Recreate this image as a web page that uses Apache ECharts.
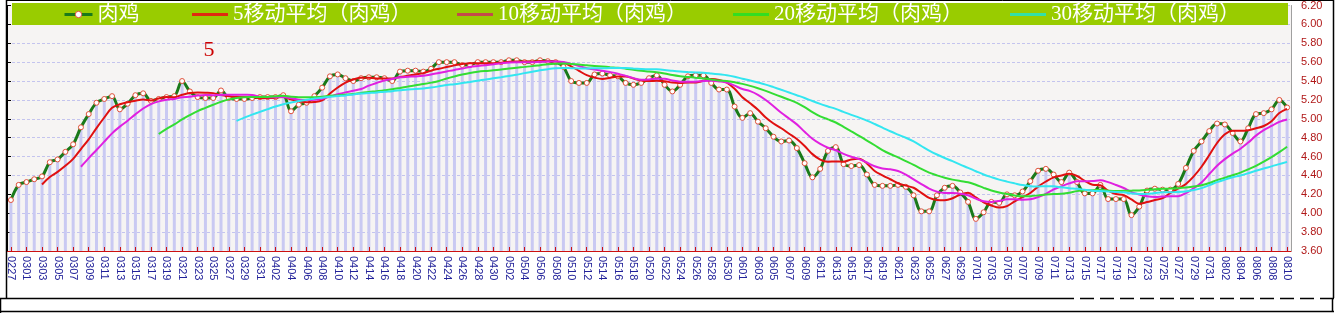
<!DOCTYPE html>
<html>
<head>
<meta charset="utf-8">
<script src="https://cdn.jsdelivr.net/npm/echarts@6/dist/echarts.min.js"></script>
<style>
html,body{margin:0;padding:0;background:#fff;}
#c{width:1340px;height:313px;}
</style>
</head>
<body>
<div id="c"></div>
<script>
const categories = [
'0227','0228',
'0301','0302','0303','0304','0305','0306','0307','0308','0309','0310','0311','0312','0313','0314','0315','0316','0317','0318','0319','0320','0321','0322','0323','0324','0325','0326','0327','0328','0329','0330','0331',
'0401','0402','0403','0404','0405','0406','0407','0408','0409','0410','0411','0412','0413','0414','0415','0416','0417','0418','0419','0420','0421','0422','0423','0424','0425','0426','0427','0428','0429','0430',
'0501','0502','0503','0504','0505','0506','0507','0508','0509','0510','0511','0512','0513','0514','0515','0516','0517','0518','0519','0520','0521','0522','0523','0524','0525','0526','0527','0528','0529','0530','0531',
'0601','0602','0603','0604','0605','0606','0607','0608','0609','0610','0611','0612','0613','0614','0615','0616','0617','0618','0619','0620','0621','0622','0623','0624','0625','0626','0627','0628','0629','0630',
'0701','0702','0703','0704','0705','0706','0707','0708','0709','0710','0711','0712','0713','0714','0715','0716','0717','0718','0719','0720','0721','0722','0723','0724','0725','0726','0727','0728','0729','0730','0731',
'0801','0802','0803','0804','0805','0806','0807','0808','0809','0810'
];

const seriesNames = ['肉鸡','5移动平均（肉鸡）','10移动平均（肉鸡）','20移动平均（肉鸡）','30移动平均（肉鸡）'];

const chicken = [
4.14,4.30,4.33,4.36,4.39,4.54,4.57,4.65,4.73,4.91,
5.05,5.17,5.21,5.24,5.10,5.16,5.25,5.27,5.19,5.21,
5.23,5.24,5.40,5.29,5.23,5.22,5.22,5.30,5.22,5.21,
5.21,5.22,5.23,5.23,5.23,5.25,5.08,5.15,5.17,5.24,
5.33,5.45,5.47,5.43,5.40,5.43,5.44,5.44,5.43,5.40,
5.50,5.51,5.51,5.50,5.53,5.60,5.60,5.60,5.57,5.57,
5.60,5.60,5.60,5.60,5.62,5.62,5.60,5.60,5.62,5.61,
5.60,5.55,5.40,5.38,5.38,5.47,5.48,5.46,5.45,5.38,
5.36,5.38,5.43,5.46,5.36,5.29,5.36,5.45,5.46,5.46,
5.38,5.31,5.31,5.13,5.01,5.06,4.97,4.90,4.81,4.76,
4.77,4.69,4.53,4.38,4.47,4.66,4.70,4.52,4.50,4.51,
4.41,4.30,4.29,4.29,4.30,4.28,4.19,4.02,4.02,4.19,
4.27,4.29,4.22,4.12,3.94,4.01,4.12,4.11,4.20,4.19,
4.23,4.34,4.45,4.47,4.41,4.33,4.43,4.33,4.21,4.21,
4.30,4.15,4.15,4.15,3.98,4.07,4.24,4.26,4.25,4.25,
4.31,4.48,4.66,4.76,4.87,4.95,4.94,4.85,4.76,4.90,
5.05,5.06,5.10,5.20,5.12
];

const ma5 = [
null,null,null,null,
4.304,4.384,4.438,4.502,4.576,4.68,4.782,4.902,5.014,5.116,
5.154,5.176,5.192,5.204,5.194,5.216,5.23,5.228,5.254,5.274,
5.278,5.276,5.272,5.252,5.238,5.234,5.232,5.232,5.218,5.22,
5.224,5.232,5.204,5.188,5.176,5.178,5.194,5.268,5.332,5.384,
5.416,5.436,5.434,5.428,5.428,5.428,5.442,5.456,5.47,5.484,
5.51,5.53,5.548,5.566,5.58,5.588,5.588,5.588,5.588,5.594,
5.604,5.608,5.608,5.608,5.612,5.61,5.606,5.596,5.556,5.508,
5.462,5.436,5.422,5.434,5.448,5.448,5.426,5.406,5.40,5.402,
5.398,5.384,5.38,5.384,5.384,5.404,5.422,5.412,5.384,5.318,
5.228,5.164,5.096,5.014,4.95,4.90,4.842,4.786,4.712,4.626,
4.568,4.546,4.548,4.546,4.57,4.578,4.528,4.448,4.402,4.36,
4.318,4.292,4.27,4.216,4.162,4.14,4.138,4.158,4.198,4.218,
4.168,4.116,4.082,4.06,4.076,4.126,4.17,4.214,4.282,4.336,
4.38,4.40,4.418,4.394,4.342,4.302,4.296,4.24,4.204,4.192,
4.146,4.10,4.118,4.14,4.16,4.214,4.262,4.31,4.39,4.492,
4.616,4.744,4.836,4.874,4.874,4.88,4.90,4.924,4.974,5.062,
5.106
];

const ma10 = [
null,null,null,null,null,null,null,null,null,
4.492,4.583,4.67,4.758,4.846,4.917,4.979,5.047,5.109,5.155,
5.185,5.203,5.21,5.229,5.234,5.247,5.253,5.25,5.253,5.256,
5.256,5.254,5.252,5.235,5.229,5.229,5.232,5.218,5.203,5.198,
5.201,5.213,5.236,5.26,5.28,5.297,5.315,5.351,5.38,5.406,
5.422,5.439,5.445,5.449,5.456,5.469,5.486,5.502,5.518,5.532,
5.549,5.559,5.568,5.577,5.587,5.596,5.598,5.598,5.598,5.603,
5.607,5.607,5.602,5.582,5.56,5.536,5.521,5.509,5.495,5.478,
5.455,5.431,5.414,5.417,5.425,5.423,5.405,5.393,5.392,5.393,
5.401,5.403,5.396,5.384,5.351,5.316,5.293,5.254,5.199,5.134,
5.064,5.003,4.941,4.863,4.788,4.734,4.694,4.667,4.629,4.598,
4.573,4.537,4.498,4.474,4.465,4.448,4.41,4.359,4.309,4.261,
4.229,4.215,4.214,4.207,4.19,4.154,4.127,4.12,4.129,4.147,
4.147,4.143,4.148,4.171,4.206,4.253,4.285,4.316,4.338,4.339,
4.341,4.348,4.329,4.299,4.267,4.224,4.198,4.179,4.172,4.176,
4.18,4.181,4.214,4.265,4.326,4.415,4.503,4.573,4.632,4.683,
4.748,4.822,4.88,4.924,4.968,4.993
];

const ma20 = [
null,null,null,null,null,null,null,null,null,null,
null,null,null,null,null,null,null,null,null,
4.839,4.893,4.94,4.994,5.04,5.082,5.116,5.149,5.181,5.206,
5.221,5.229,5.231,5.232,5.232,5.238,5.243,5.234,5.228,5.227,
5.229,5.234,5.244,5.248,5.255,5.263,5.274,5.285,5.292,5.302,
5.312,5.326,5.341,5.355,5.368,5.383,5.401,5.427,5.449,5.469,
5.486,5.499,5.507,5.513,5.522,5.533,5.542,5.55,5.558,5.568,
5.578,5.583,5.585,5.58,5.574,5.566,5.56,5.554,5.547,5.541,
5.531,5.519,5.508,5.50,5.493,5.48,5.463,5.451,5.444,5.436,
5.428,5.417,5.405,5.401,5.388,5.37,5.349,5.324,5.296,5.264,
5.233,5.203,5.169,5.124,5.07,5.025,4.994,4.961,4.914,4.866,
4.819,4.77,4.72,4.669,4.627,4.591,4.552,4.513,4.469,4.43,
4.401,4.376,4.356,4.341,4.328,4.301,4.269,4.24,4.219,4.204,
4.188,4.179,4.181,4.189,4.198,4.204,4.206,4.218,4.234,4.243,
4.244,4.246,4.239,4.235,4.237,4.239,4.242,4.248,4.255,4.258,
4.261,4.265,4.272,4.282,4.297,4.32,4.351,4.376,4.402,4.43,
4.464,4.502,4.547,4.595,4.647,4.704
];

const ma30 = [
null,null,null,null,null,null,null,null,null,null,
null,null,null,null,null,null,null,null,null,null,
null,null,null,null,null,null,null,null,null,
4.978,5.013,5.044,5.074,5.103,5.131,5.155,5.172,5.188,5.203,
5.214,5.223,5.233,5.241,5.248,5.258,5.267,5.273,5.279,5.287,
5.293,5.302,5.311,5.315,5.322,5.332,5.344,5.357,5.367,5.379,
5.391,5.404,5.416,5.429,5.441,5.454,5.466,5.484,5.499,5.514,
5.526,5.535,5.538,5.536,5.534,5.534,5.535,5.536,5.537,5.538,
5.537,5.532,5.528,5.525,5.524,5.518,5.508,5.50,5.495,5.491,
5.488,5.48,5.471,5.461,5.445,5.425,5.406,5.385,5.362,5.335,
5.307,5.279,5.25,5.221,5.188,5.158,5.131,5.105,5.073,5.042,
5.013,4.981,4.945,4.907,4.868,4.833,4.799,4.76,4.712,4.664,
4.622,4.585,4.551,4.515,4.481,4.445,4.41,4.382,4.356,4.335,
4.316,4.298,4.287,4.284,4.287,4.285,4.274,4.265,4.259,4.249,
4.239,4.235,4.23,4.226,4.221,4.21,4.203,4.205,4.213,4.221,
4.223,4.224,4.23,4.245,4.266,4.297,4.329,4.356,4.381,4.399,
4.423,4.45,4.474,4.496,4.52,4.544
];

const yMin = 3.6, yMax = 6.2, yStep = 0.2;
const annotationText = '5';

const legendText = {
  color: '#ffffff', fontSize: 21,
  fontFamily: "'Liberation Serif','Noto Sans CJK SC',serif"
};
function legendAt(left, width, height, name, extra) {
  return {
    left: left, top: 4, padding: 0, itemWidth: width, itemHeight: height,
    selectedMode: false, z: 20, textStyle: legendText,
    data: [Object.assign({ name: name }, extra)]
  };
}

const chart = echarts.init(document.getElementById('c'), null, { renderer: 'canvas' });
const option = {
  animation: false,
  backgroundColor: '#ffffff',
  grid: { left: 7, right: 49, top: 3, bottom: 62, show: true, backgroundColor: '#f6f4f3', borderWidth: 0 },
  legend: [
    legendAt(63, 28, 8, seriesNames[0], { lineStyle: { color: '#1a7a1a', width: 3 }, itemStyle: { color: '#ffffff', borderColor: '#e0503a', borderWidth: 1 } }),
    legendAt(192, 36, 3, seriesNames[1], { icon: 'rect', itemStyle: { color: '#e02a10' } }),
    legendAt(457, 36, 3, seriesNames[2], { icon: 'rect', itemStyle: { color: '#c44a4a' } }),
    legendAt(733, 36, 3, seriesNames[3], { icon: 'rect', itemStyle: { color: '#33dd22' } }),
    legendAt(1010, 36, 3, seriesNames[4], { icon: 'rect', itemStyle: { color: '#33e0a8' } })
  ],
  xAxis: {
    type: 'category', data: categories, boundaryGap: true, z: 5,
    axisLine: { onZero: false, lineStyle: { color: '#cc1111', width: 1 } },
    axisTick: { show: true, inside: true, length: 4, interval: 1, alignWithLabel: true, lineStyle: { color: '#cc1111' } },
    axisLabel: { interval: 1, rotate: -90, color: '#23239a', fontSize: 11, fontFamily: "'Liberation Sans',sans-serif", margin: 5 },
    splitLine: { show: false }
  },
  yAxis: [
    {
      type: 'value', position: 'right', min: yMin, max: yMax, interval: yStep,
      axisLine: { show: true, lineStyle: { color: '#a0a0a0' } },
      axisTick: { show: false },
      axisLabel: { formatter: v => v.toFixed(2), color: '#b01818', fontSize: 11, fontFamily: "'Liberation Sans',sans-serif", margin: 10 },
      splitLine: { show: true, lineStyle: { type: [3, 2], color: '#c4c4ee', width: 1 } }
    },
    {
      type: 'value', position: 'left', min: yMin, max: yMax, interval: yStep,
      axisLine: { show: true, lineStyle: { color: '#000000', width: 1 } },
      axisTick: { show: true, inside: true, length: 4, lineStyle: { color: '#000000' } },
      axisLabel: { show: false },
      splitLine: { show: false }
    }
  ],
  graphic: [
    { type: 'rect', z: 15, shape: { x: 12, y: 3, width: 1276, height: 22 }, style: { fill: '#99cc00' } },
    { type: 'text', z: 15, x: 209, y: 50, style: { text: annotationText, fill: '#cc0000', font: "22px 'Liberation Serif',serif", align: 'center', verticalAlign: 'middle' } },
    { type: 'line', z: 30, shape: { x1: 7, y1: 0.5, x2: 1334, y2: 0.5 }, style: { stroke: '#000', lineWidth: 1 } },
    { type: 'line', z: 30, shape: { x1: 1333.5, y1: 0, x2: 1333.5, y2: 298 }, style: { stroke: '#000', lineWidth: 1.5 } },
    { type: 'line', z: 30, shape: { x1: 6.5, y1: 0, x2: 6.5, y2: 298 }, style: { stroke: '#000', lineWidth: 1.5 } },
    { type: 'line', z: 30, shape: { x1: 0, y1: 298.5, x2: 1060, y2: 298.5 }, style: { stroke: '#000', lineWidth: 1.5 } },
    { type: 'line', z: 30, shape: { x1: 1060, y1: 298.5, x2: 1334, y2: 298.5 }, style: { stroke: '#000', lineWidth: 1.5, lineDash: [14, 6] } },
    { type: 'line', z: 30, shape: { x1: 0.5, y1: 298, x2: 0.5, y2: 313 }, style: { stroke: '#000', lineWidth: 1.5 } },
    { type: 'line', z: 30, shape: { x1: 0, y1: 311.5, x2: 1334, y2: 311.5 }, style: { stroke: '#000', lineWidth: 1.5 } },
    { type: 'line', z: 30, shape: { x1: 1332.5, y1: 298, x2: 1332.5, y2: 312 }, style: { stroke: '#000', lineWidth: 1.5 } }
  ],
  series: [
    {
      name: 'bars', type: 'bar', data: chicken, barWidth: 3, z: 1, clip: true,
      itemStyle: { color: '#c9c9f2' }, silent: true, legendHoverLink: false
    },
    {
      name: seriesNames[0], type: 'line', data: chicken, smooth: 0.35, z: 3,
      symbol: 'circle', symbolSize: 5, showSymbol: true,
      lineStyle: { color: '#1a7a1a', width: 3 },
      itemStyle: { color: '#ffffff', borderColor: '#e0503a', borderWidth: 1 }
    },
    { name: seriesNames[1], type: 'line', data: ma5, smooth: 0.35, z: 4, symbol: 'none', lineStyle: { color: '#e01010', width: 2 }, itemStyle: { color: '#e01010' } },
    { name: seriesNames[2], type: 'line', data: ma10, smooth: 0.35, z: 4, symbol: 'none', lineStyle: { color: '#e020e0', width: 2 }, itemStyle: { color: '#e020e0' } },
    { name: seriesNames[3], type: 'line', data: ma20, smooth: 0.35, z: 4, symbol: 'none', lineStyle: { color: '#33dd33', width: 2 }, itemStyle: { color: '#33dd33' } },
    { name: seriesNames[4], type: 'line', data: ma30, smooth: 0.35, z: 4, symbol: 'none', lineStyle: { color: '#33e6f0', width: 2 }, itemStyle: { color: '#33e6f0' } }
  ]
};
chart.setOption(option);
</script>
</body>
</html>
